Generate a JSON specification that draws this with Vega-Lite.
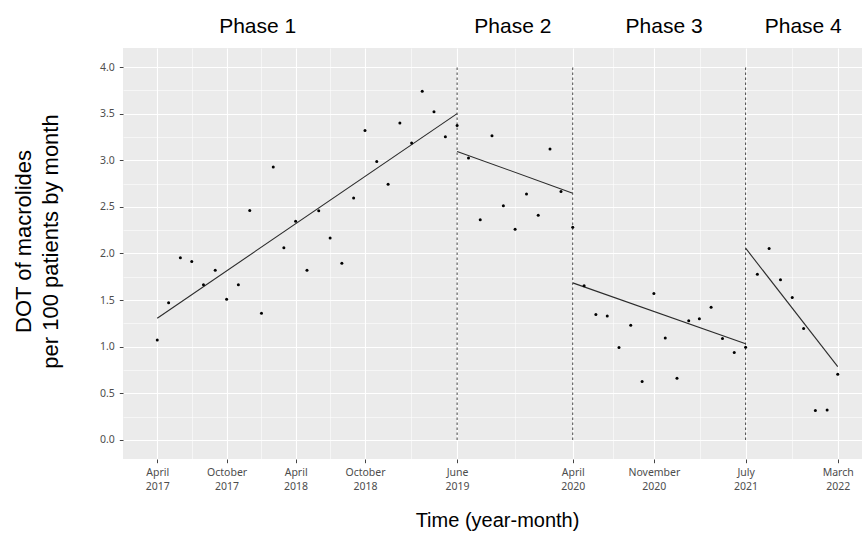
{
  "$schema": "https://vega.github.io/schema/vega-lite/v6.json",
  "width": 739,
  "height": 411,
  "autosize": "none",
  "padding": {"left": 123, "top": 48, "right": 0, "bottom": 74},
  "background": "white",
  "config": {
    "view": {"fill": "#EBEBEB", "stroke": null},
    "axis": {
      "gridColor": "white",
      "domain": false,
      "labelFont": "Noto Sans",
      "labelFontSize": 10.5,
      "labelColor": "#4D4D4D",
      "tickColor": "#444444",
      "tickSize": 3.7,
      "titleFont": "Liberation Sans",
      "titleFontWeight": "normal",
      "titleColor": "#000000"
    }
  },
  "datasets": {
    "points": [
      {"month": "2017-04-01", "dot": 1.073},
      {"month": "2017-05-01", "dot": 1.471},
      {"month": "2017-06-01", "dot": 1.955},
      {"month": "2017-07-01", "dot": 1.915},
      {"month": "2017-08-01", "dot": 1.664},
      {"month": "2017-09-01", "dot": 1.820},
      {"month": "2017-10-01", "dot": 1.510},
      {"month": "2017-11-01", "dot": 1.664},
      {"month": "2017-12-01", "dot": 2.462},
      {"month": "2018-01-01", "dot": 1.359},
      {"month": "2018-02-01", "dot": 2.927},
      {"month": "2018-03-01", "dot": 2.061},
      {"month": "2018-04-01", "dot": 2.347},
      {"month": "2018-05-01", "dot": 1.820},
      {"month": "2018-06-01", "dot": 2.458},
      {"month": "2018-07-01", "dot": 2.165},
      {"month": "2018-08-01", "dot": 1.895},
      {"month": "2018-09-01", "dot": 2.594},
      {"month": "2018-10-01", "dot": 3.320},
      {"month": "2018-11-01", "dot": 2.988},
      {"month": "2018-12-01", "dot": 2.744},
      {"month": "2019-01-01", "dot": 3.399},
      {"month": "2019-02-01", "dot": 3.184},
      {"month": "2019-03-01", "dot": 3.739},
      {"month": "2019-04-01", "dot": 3.521},
      {"month": "2019-05-01", "dot": 3.253},
      {"month": "2019-06-01", "dot": 3.374},
      {"month": "2019-07-01", "dot": 3.023},
      {"month": "2019-08-01", "dot": 2.362},
      {"month": "2019-09-01", "dot": 3.263},
      {"month": "2019-10-01", "dot": 2.512},
      {"month": "2019-11-01", "dot": 2.261},
      {"month": "2019-12-01", "dot": 2.637},
      {"month": "2020-01-01", "dot": 2.411},
      {"month": "2020-02-01", "dot": 3.120},
      {"month": "2020-03-01", "dot": 2.666},
      {"month": "2020-04-01", "dot": 2.282},
      {"month": "2020-05-01", "dot": 1.653},
      {"month": "2020-06-01", "dot": 1.345},
      {"month": "2020-07-01", "dot": 1.331},
      {"month": "2020-08-01", "dot": 0.991},
      {"month": "2020-09-01", "dot": 1.230},
      {"month": "2020-10-01", "dot": 0.626},
      {"month": "2020-11-01", "dot": 1.571},
      {"month": "2020-12-01", "dot": 1.095},
      {"month": "2021-01-01", "dot": 0.662},
      {"month": "2021-02-01", "dot": 1.278},
      {"month": "2021-03-01", "dot": 1.299},
      {"month": "2021-04-01", "dot": 1.424},
      {"month": "2021-05-01", "dot": 1.088},
      {"month": "2021-06-01", "dot": 0.937},
      {"month": "2021-07-01", "dot": 0.994},
      {"month": "2021-08-01", "dot": 1.778},
      {"month": "2021-09-01", "dot": 2.054},
      {"month": "2021-10-01", "dot": 1.718},
      {"month": "2021-11-01", "dot": 1.528},
      {"month": "2021-12-01", "dot": 1.195},
      {"month": "2022-01-01", "dot": 0.315},
      {"month": "2022-02-01", "dot": 0.322},
      {"month": "2022-03-01", "dot": 0.704}
    ],
    "trend": [
      {"phase": "Phase 1", "month": "2017-04-01", "dot": 1.306},
      {"phase": "Phase 1", "month": "2019-06-01", "dot": 3.500},
      {"phase": "Phase 2", "month": "2019-06-01", "dot": 3.095},
      {"phase": "Phase 2", "month": "2020-04-01", "dot": 2.647},
      {"phase": "Phase 3", "month": "2020-04-01", "dot": 1.685},
      {"phase": "Phase 3", "month": "2021-07-01", "dot": 1.031},
      {"phase": "Phase 4", "month": "2021-07-01", "dot": 2.057},
      {"phase": "Phase 4", "month": "2022-03-01", "dot": 0.787}
    ],
    "breaks": [
      {"month": "2019-06-01"},
      {"month": "2020-04-01"},
      {"month": "2021-07-01"}
    ],
    "phases": [
      {"phase": "Phase 1", "month": "2017-12-22"},
      {"phase": "Phase 2", "month": "2019-10-26"},
      {"phase": "Phase 3", "month": "2020-11-28"},
      {"phase": "Phase 4", "month": "2021-11-30"}
    ]
  },
  "resolve": {"axis": {"x": "independent", "y": "independent"}},
  "layer": [
    {
      "data": {"name": "breaks"},
      "mark": {"type": "rule", "color": "#444444", "strokeWidth": 1, "strokeDash": [2.5, 2.5]},
      "encoding": {
        "x": {
          "field": "month", "type": "temporal",
          "scale": {"type": "utc", "domain": [{"year": 2016, "month": 12, "date": 31, "hours": 16, "utc": true}, {"year": 2022, "month": 5, "date": 4, "utc": true}]},
          "axis": {
            "orient": "top",
            "values": [
              {"year": 2017, "month": 7, "date": 1, "utc": true},
              {"year": 2018, "month": 1, "date": 1, "utc": true},
              {"year": 2018, "month": 7, "date": 1, "utc": true},
              {"year": 2019, "month": 1, "date": 31, "utc": true},
              {"year": 2019, "month": 10, "date": 31, "hours": 12, "utc": true},
              {"year": 2020, "month": 7, "date": 17, "utc": true},
              {"year": 2021, "month": 3, "date": 2, "utc": true},
              {"year": 2021, "month": 10, "date": 31, "utc": true}
            ],
            "grid": true, "gridWidth": 0.55, "labels": false, "ticks": false, "domain": false, "title": null
          }
        },
        "y": {
          "datum": 0, "type": "quantitative",
          "scale": {"domain": [-0.204, 4.204], "nice": false, "zero": false},
          "axis": {
            "orient": "right",
            "values": [0.25, 0.75, 1.25, 1.75, 2.25, 2.75, 3.25, 3.75],
            "grid": true, "gridWidth": 0.55, "labels": false, "ticks": false, "domain": false, "title": null
          }
        },
        "y2": {"datum": 4}
      }
    },
    {
      "data": {"name": "trend"},
      "mark": {"type": "line", "color": "#2b2b2b", "strokeWidth": 1.1},
      "encoding": {
        "x": {
          "field": "month", "type": "temporal",
          "scale": {"type": "utc", "domain": [{"year": 2016, "month": 12, "date": 31, "hours": 16, "utc": true}, {"year": 2022, "month": 5, "date": 4, "utc": true}]},
          "axis": {
            "orient": "bottom",
            "values": [
              {"year": 2017, "month": 4, "date": 1, "utc": true},
              {"year": 2017, "month": 10, "date": 1, "utc": true},
              {"year": 2018, "month": 4, "date": 1, "utc": true},
              {"year": 2018, "month": 10, "date": 1, "utc": true},
              {"year": 2019, "month": 6, "date": 1, "utc": true},
              {"year": 2020, "month": 4, "date": 1, "utc": true},
              {"year": 2020, "month": 11, "date": 1, "utc": true},
              {"year": 2021, "month": 7, "date": 1, "utc": true},
              {"year": 2022, "month": 3, "date": 1, "utc": true}
            ],
            "labelExpr": "[utcFormat(datum.value, '%B'), utcFormat(datum.value, '%Y')]",
            "labelAlign": "center",
            "labelLineHeight": 13.5,
            "labelPadding": 5,
            "labelOverlap": false,
            "grid": true, "gridWidth": 1.1,
            "title": "Time (year-month)",
            "titleFontSize": 20,
            "titlePadding": 19,
            "titleX": 374
          }
        },
        "y": {
          "field": "dot", "type": "quantitative",
          "scale": {"domain": [-0.204, 4.204], "nice": false, "zero": false},
          "axis": {
            "orient": "left",
            "values": [0, 0.5, 1, 1.5, 2, 2.5, 3, 3.5, 4],
            "format": ".1f",
            "labelPadding": 5,
            "grid": true, "gridWidth": 1.1,
            "title": ["DOT of macrolides", "per 100 patients by month"],
            "titleFontSize": 22,
            "titleLineHeight": 27,
            "titleAngle": -90,
            "titleAlign": "center",
            "titleBaseline": "middle",
            "titleX": -100,
            "titleY": 193
          }
        },
        "detail": {"field": "phase"}
      }
    },
    {
      "data": {"name": "points"},
      "mark": {"type": "circle", "color": "#000000", "opacity": 1, "size": 9},
      "encoding": {
        "x": {"field": "month", "type": "temporal", "scale": {"type": "utc", "domain": [{"year": 2016, "month": 12, "date": 31, "hours": 16, "utc": true}, {"year": 2022, "month": 5, "date": 4, "utc": true}]}, "axis": null},
        "y": {"field": "dot", "type": "quantitative", "scale": {"domain": [-0.204, 4.204], "nice": false, "zero": false}, "axis": null}
      }
    },
    {
      "data": {"name": "phases"},
      "mark": {"type": "text", "font": "Liberation Sans", "fontSize": 21, "color": "#000000", "baseline": "alphabetic", "align": "center"},
      "encoding": {
        "x": {"field": "month", "type": "temporal", "scale": {"type": "utc", "domain": [{"year": 2016, "month": 12, "date": 31, "hours": 16, "utc": true}, {"year": 2022, "month": 5, "date": 4, "utc": true}]}, "axis": null},
        "y": {"datum": 4.36, "type": "quantitative", "scale": {"domain": [-0.204, 4.204], "nice": false, "zero": false}, "axis": null},
        "text": {"field": "phase"}
      }
    }
  ]
}
